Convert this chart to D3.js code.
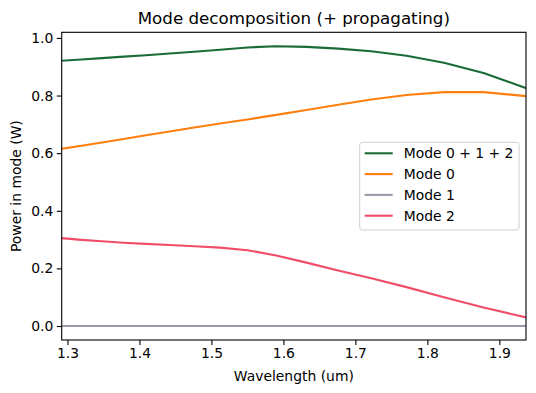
<!DOCTYPE html>
<html>
<head>
<meta charset="utf-8">
<script src="https://cdn.jsdelivr.net/npm/d3@7"></script>
<style>
  body { margin: 0; background: #fff; }
  text { font-family: "DejaVu Sans", sans-serif; fill: #000; }
</style>
</head>
<body>
<div id="chart"></div>
<script>
// wavelength samples (um)
const wavelength = [1.292, 1.3195, 1.348, 1.378, 1.409, 1.442, 1.476, 1.512, 1.550, 1.590, 1.632, 1.676, 1.722, 1.771, 1.823, 1.878, 1.937];
// power per mode (W)
const modeSum = [0.921, 0.925, 0.930, 0.935, 0.940, 0.946, 0.952, 0.959, 0.967, 0.971, 0.969, 0.963, 0.954, 0.938, 0.914, 0.878, 0.826];
const mode0 = [0.615, 0.626, 0.637, 0.649, 0.662, 0.675, 0.689, 0.703, 0.717, 0.733, 0.750, 0.768, 0.786, 0.802, 0.812, 0.812, 0.798];
const mode1 = [0, 0, 0, 0, 0, 0, 0, 0, 0, 0, 0, 0, 0, 0, 0, 0, 0];
const mode2 = [0.305, 0.299, 0.294, 0.289, 0.285, 0.281, 0.277, 0.272, 0.263, 0.245, 0.220, 0.193, 0.166, 0.135, 0.100, 0.064, 0.030];
const seriesNames = ["Mode 0 + 1 + 2", "Mode 0", "Mode 1", "Mode 2"];
const xTicks = [1.3, 1.4, 1.5, 1.6, 1.7, 1.8, 1.9];
const yTicks = [0.0, 0.2, 0.4, 0.6, 0.8, 1.0];

const colors = ["#1b6b38", "#ff7f0e", "#9b9aaa", "#f24d68"];
const series = [modeSum, mode0, mode1, mode2];

const W = 536, H = 393;
const margin = { top: 32.3, right: 10, bottom: 53, left: 61.7 };
const width = W - margin.left - margin.right,
      height = H - margin.top - margin.bottom;

const svg = d3.select("#chart").append("svg")
    .attr("width", W)
    .attr("height", H);

const g = svg.append("g")
    .attr("transform", "translate(" + margin.left + "," + margin.top + ")");

// x limits = data range, y limits with 5% padding like matplotlib
const x = d3.scaleLinear()
    .domain(d3.extent(wavelength))
    .range([0, width]);

const allV = series.flat();
const yMin = d3.min(allV), yMax = d3.max(allV), pad = (yMax - yMin) * 0.05;
const y = d3.scaleLinear()
    .domain([yMin - pad, yMax + pad])
    .range([height, 0]);

// lines
const line = d3.line()
    .x((d, i) => x(wavelength[i]))
    .y(d => y(d));

g.append("clipPath").attr("id", "clip")
  .append("rect").attr("width", width).attr("height", height);

const order = [2, 0, 1, 3];
g.append("g").attr("clip-path", "url(#clip)")
  .selectAll("path")
  .data(series)
  .enter().append("path")
  .attr("d", line)
  .attr("fill", "none")
  .attr("stroke", (d, i) => colors[i])
  .attr("stroke-width", 2.1)
  .attr("stroke-linejoin", "round")
  .attr("stroke-linecap", "square");

// axes
const xAxis = g.append("g")
    .attr("transform", "translate(0," + height + ")")
    .call(d3.axisBottom(x).tickValues(xTicks).tickFormat(d3.format(".1f")).tickSize(4.9).tickPadding(3.5).tickSizeOuter(0));
const yAxis = g.append("g")
    .call(d3.axisLeft(y).tickValues(yTicks).tickFormat(d3.format(".1f")).tickSize(4.9).tickPadding(3.5).tickSizeOuter(0));

[xAxis, yAxis].forEach(a => {
  a.select(".domain").remove();
  a.selectAll("line").attr("stroke", "#000").attr("stroke-width", 1.1);
  a.selectAll("text").style("font-size", "13.9px").attr("fill", "#000");
});

// frame
g.append("rect")
  .attr("width", width)
  .attr("height", height)
  .attr("fill", "none")
  .attr("stroke", "#000")
  .attr("stroke-width", 1.1);

// title and labels
svg.append("text")
  .attr("x", margin.left + width / 2)
  .attr("y", margin.top - 8.5)
  .attr("text-anchor", "middle")
  .style("font-size", "16.7px")
  .text("Mode decomposition (+ propagating)");

svg.append("text")
  .attr("x", margin.left + width / 2)
  .attr("y", 381)
  .attr("text-anchor", "middle")
  .style("font-size", "13.9px")
  .text("Wavelength (um)");

svg.append("text")
  .attr("transform", "translate(21," + (margin.top + height / 2) + ") rotate(-90)")
  .attr("text-anchor", "middle")
  .style("font-size", "13.9px")
  .text("Power in mode (W)");

// legend, center right
const rowH = 20.8, legW = 159.4, legH = 87.7;
const legX = width - 6.9 - legW, legY = height / 2 - legH / 2;
const leg = g.append("g").attr("transform", "translate(" + legX + "," + legY + ")");
leg.append("rect")
  .attr("width", legW)
  .attr("height", legH)
  .attr("rx", 2.8)
  .attr("fill", "#fff")
  .attr("fill-opacity", 0.8)
  .attr("stroke", "#d0d0d0")
  .attr("stroke-width", 1);

const items = leg.selectAll(".item")
  .data(seriesNames)
  .enter().append("g")
  .attr("transform", (d, i) => "translate(0," + (11 + i * rowH) + ")");
items.append("line")
  .attr("x1", 5)
  .attr("x2", 33)
  .attr("stroke", (d, i) => colors[i])
  .attr("stroke-width", 2.1);
items.append("text")
  .attr("x", 44)
  .attr("dy", "0.36em")
  .style("font-size", "13.9px")
  .text(d => d);
</script>
</body>
</html>
